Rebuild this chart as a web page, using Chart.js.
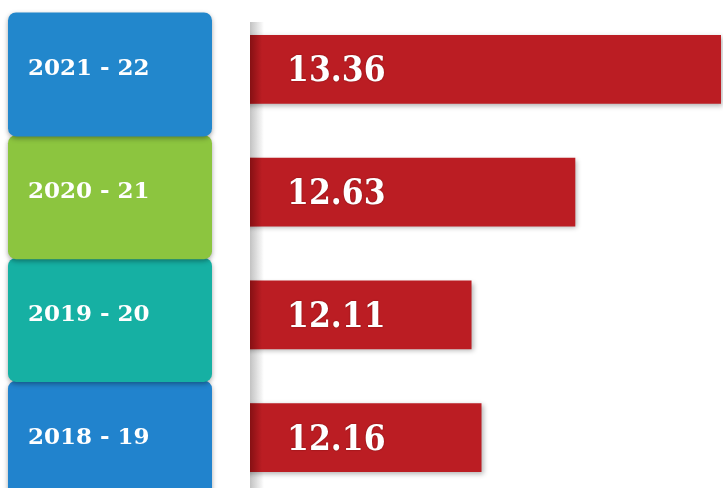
<!DOCTYPE html>
<html>
<head>
<meta charset="utf-8">
<script src="https://cdn.jsdelivr.net/npm/chart.js@4"></script>
<style>
  html, body { margin: 0; padding: 0; background: #fff; overflow: hidden; }
</style>
</head>
<body>
<canvas id="gdpChart" width="723" height="500"></canvas>
<script>
// Years shown on the tiles, top to bottom
const years = ["2021 - 22", "2020 - 21", "2019 - 20", "2018 - 19"];
const values = [13.36, 12.63, 12.11, 12.16];
const tileColors = ["#2287cc", "#8cc53f", "#16b0a3", "#2183cd"];
const barColor = "#bb1d23";

// coloured tiles behind the year labels, value labels inside the bars
const tilesPlugin = {
  id: "tiles",
  beforeDraw(chart) {
    const ctx = chart.ctx;
    const y = chart.scales.y;
    ctx.save();
    for (let i = years.length - 1; i >= 0; i--) {
      const c = y.getPixelForValue(i);
      ctx.shadowColor = "rgba(0,0,0,0.35)";
      ctx.shadowBlur = 5;
      ctx.shadowOffsetY = 2;
      ctx.fillStyle = tileColors[i];
      ctx.beginPath();
      ctx.roundRect(8, c - 57, 204, 124, 8);
      ctx.fill();
    }
    ctx.restore();
    // soft grey divider shadow left of the bars
    const left = chart.chartArea.left;
    ctx.save();
    const g = ctx.createLinearGradient(left, 0, left + 14, 0);
    g.addColorStop(0, "rgba(120,120,120,0.45)");
    g.addColorStop(1, "rgba(120,120,120,0)");
    ctx.fillStyle = g;
    ctx.fillRect(left, 22, 14, 480);
    ctx.restore();
  },
  beforeDatasetDraw(chart) {
    const ctx = chart.ctx;
    ctx.save();
    ctx.shadowColor = "rgba(0,0,0,0.3)";
    ctx.shadowBlur = 5;
    ctx.shadowOffsetX = 2;
    ctx.shadowOffsetY = 2;
  },
  afterDatasetDraw(chart) {
    chart.ctx.restore();
  },
  afterDraw(chart) {
    const ctx = chart.ctx;
    const meta = chart.getDatasetMeta(0);
    const x = chart.scales.x;
    const y = chart.scales.y;
    const left = x.getPixelForValue(x.min);
    ctx.save();
    // darker fold on the left end of each bar
    meta.data.forEach((bar) => {
      const h = bar.height;
      const g = ctx.createLinearGradient(left, 0, left + 12, 0);
      g.addColorStop(0, "rgba(70,0,0,0.45)");
      g.addColorStop(1, "rgba(70,0,0,0)");
      ctx.fillStyle = g;
      ctx.fillRect(left, bar.y - h / 2, 12, h);
    });
    ctx.font = "bold 35px 'DejaVu Serif Condensed', 'DejaVu Serif', serif";
    ctx.fillStyle = "#ffffff";
    ctx.textAlign = "left";
    ctx.textBaseline = "middle";
    ctx.shadowColor = "rgba(80,0,0,0.6)";
    ctx.shadowBlur = 2;
    values.forEach((v, i) => {
      ctx.fillText(v.toFixed(2), left + 37, y.getPixelForValue(i) + 3);
    });
    ctx.restore();
  }
};

new Chart(document.getElementById("gdpChart"), {
  type: "bar",
  data: {
    labels: years,
    datasets: [{
      data: values,
      backgroundColor: barColor,
      borderWidth: 0,
      barPercentage: 0.56,
      categoryPercentage: 1
    }]
  },
  options: {
    indexAxis: "y",
    responsive: false,
    animation: false,
    layout: { padding: { left: 28, top: 8, bottom: 1, right: 0 } },
    plugins: {
      legend: { display: false },
      tooltip: { enabled: false }
    },
    scales: {
      x: {
        display: false,
        min: 11,
        max: 13.37
      },
      y: {
        afterFit(scale) {
          scale.width = 222;
          scale.paddingTop = 0;
          scale.paddingBottom = 0;
        },
        grid: { display: false, drawTicks: false },
        border: { display: false },
        ticks: {
          crossAlign: "far",
          color: "#ffffff",
          padding: 0,
          font: { family: "'DejaVu Serif'", size: 23, weight: "bold" }
        }
      }
    }
  },
  plugins: [tilesPlugin]
});
</script>
</body>
</html>
